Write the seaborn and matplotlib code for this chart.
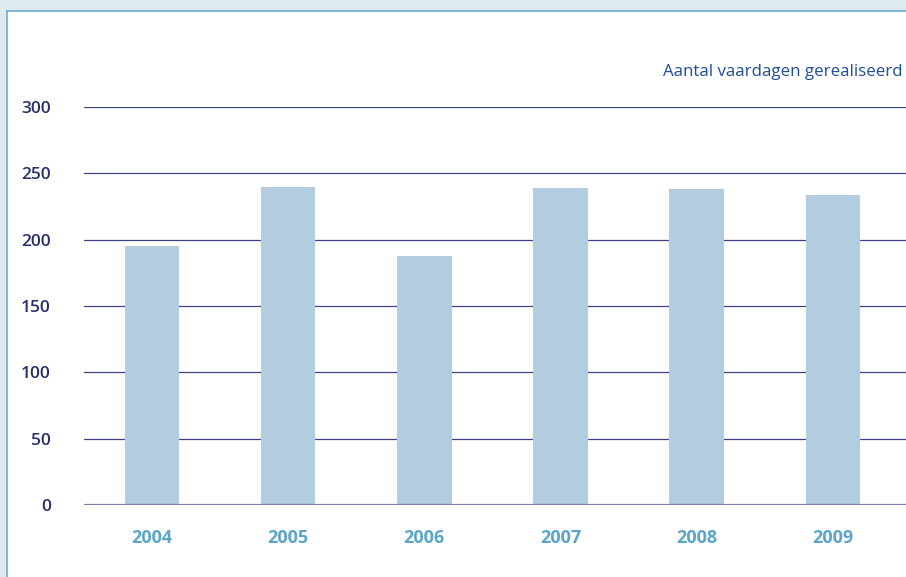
import matplotlib
matplotlib.use("Agg")
import matplotlib.pyplot as plt
from matplotlib.patches import Rectangle
import seaborn as sns
import pandas as pd

years = ["2004", "2005", "2006", "2007", "2008", "2009"]
vaardagen = [195, 240, 188, 239, 238, 234]
y_ticks = [0, 50, 100, 150, 200, 250, 300]

df = pd.DataFrame({"jaar": years, "vaardagen": vaardagen})

sns.set_theme(style="white")
plt.rcParams["font.family"] = ["Open Sans", "DejaVu Sans"]

fig = plt.figure(figsize=(9.06, 5.77), dpi=100, facecolor="#dfe9f0")
# white panel with thin blue border, drawn behind the axes
fig.patches.append(Rectangle((7 / 906, -0.05), 1.05, 1 - 11 / 577 + 0.05,
                             transform=fig.transFigure, facecolor="white",
                             edgecolor="#6aaed0", linewidth=1.2, zorder=-1))

ax = fig.add_axes([84 / 906, 1 - 505 / 577, 1 - 84 / 906 + 0.02, (505 - 107) / 577])
ax.set_facecolor("none")

sns.barplot(data=df, x="jaar", y="vaardagen", color="#b3cde0", saturation=1,
            width=0.4, linewidth=0, ax=ax, zorder=3)

ax.set_ylim(0, 300)
ax.set_xlim(-0.5, 5.52 + 0.15)
ax.set_yticks(y_ticks)
for t in y_ticks[1:]:
    ax.axhline(t, color="#3d4280", linewidth=0.9, zorder=1)
ax.axhline(0, color="#7a7fa8", linewidth=1.6, zorder=4)

for s in ax.spines.values():
    s.set_visible(False)

ax.set_xlabel("")
ax.set_ylabel("")
ax.tick_params(axis="y", length=0, pad=24, labelsize=12.5, labelcolor="#27306b")
ax.tick_params(axis="x", length=0, pad=17, labelsize=13, labelcolor="#5aa5c8")
for lbl in ax.get_yticklabels():
    lbl.set_fontweight("semibold")
for lbl in ax.get_xticklabels():
    lbl.set_fontweight("bold")

fig.text(903 / 906, 1 - 72 / 577, "Aantal vaardagen gerealiseerd", ha="right",
         va="center", fontsize=12.2, color="#1f4e9a")

fig.savefig("out.png", dpi=100, facecolor=fig.get_facecolor())
